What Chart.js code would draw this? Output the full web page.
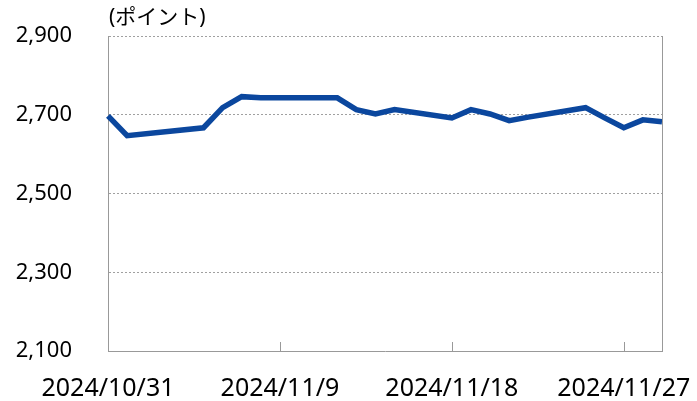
<!DOCTYPE html>
<html>
<head>
<meta charset="utf-8">
<script src="https://cdn.jsdelivr.net/npm/chart.js@4"></script>
<style>
  html, body { margin: 0; padding: 0; background: #fff; }
  #wrap { width: 697px; height: 401px; }
</style>
</head>
<body>
<div id="wrap"><canvas id="myChart"></canvas></div>
<script>
// 日付 (営業日以外は null)
var fechas = [
  "2024/10/31", "2024/11/1", "2024/11/2", "2024/11/3", "2024/11/4",
  "2024/11/5", "2024/11/6", "2024/11/7", "2024/11/8", "2024/11/9",
  "2024/11/10", "2024/11/11", "2024/11/12", "2024/11/13", "2024/11/14",
  "2024/11/15", "2024/11/16", "2024/11/17", "2024/11/18", "2024/11/19",
  "2024/11/20", "2024/11/21", "2024/11/22", "2024/11/23", "2024/11/24",
  "2024/11/25", "2024/11/26", "2024/11/27", "2024/11/28", "2024/11/29"
];
var valores = [
  2697, 2647, null, null, null,
  2667, 2718, 2746, 2743, null,
  null, 2743, 2743, 2713, 2702,
  2713, null, null, 2692, 2713,
  2702, 2685, 2694, null, null,
  2718, 2692, 2667, 2687, 2682
];
var etiquetas = ["2024/10/31", "2024/11/9", "2024/11/18", "2024/11/27"];
var unidade = "(ポイント)";
var yMin = 2100;
var yMax = 2900;
var yPaso = 200;

var fuente = "'Noto Sans', 'Noto Sans CJK JP', sans-serif";
var cinza = "#999999";

// ticks curtos para dentro, borda direita e unidade
var extras = {
  id: "extras",
  afterDraw: function (chart) {
    var ctx = chart.ctx;
    var area = chart.chartArea;
    var x = chart.scales.x;
    ctx.save();
    ctx.strokeStyle = cinza;
    ctx.lineWidth = 1;
    etiquetas.forEach(function (lab) {
      var i = fechas.indexOf(lab);
      if (i <= 0) return;
      var px = Math.round(x.getPixelForValue(i)) + 0.5;
      ctx.beginPath();
      ctx.moveTo(px, area.bottom);
      ctx.lineTo(px, area.bottom - 9);
      ctx.stroke();
    });
    ctx.beginPath();
    ctx.moveTo(Math.round(area.right) + 0.5, area.top);
    ctx.lineTo(Math.round(area.right) + 0.5, area.bottom);
    ctx.stroke();

    ctx.fillStyle = "#000";
    ctx.font = "21px " + fuente;
    ctx.textBaseline = "middle";
    ctx.textAlign = "left";
    ctx.fillText(unidade, area.left + 1, area.top - 18);
    ctx.restore();
  }
};

const ctx = document.getElementById("myChart");

new Chart(ctx, {
  type: "line",
  data: {
    labels: fechas,
    datasets: [
      {
        data: valores,
        borderColor: "#0B479E",
        borderWidth: 5.5,
        pointRadius: 0,
        tension: 0,
        spanGaps: true,
        borderJoinStyle: "miter"
      }
    ]
  },
  options: {
    responsive: true,
    maintainAspectRatio: false,
    animation: false,
    layout: { padding: { left: 0, right: 35, top: 36, bottom: 0 } },
    plugins: {
      legend: { display: false },
      tooltip: { enabled: false },
      title: { display: false }
    },
    scales: {
      x: {
        type: "category",
        offset: false,
        afterFit: function (scale) { scale.height = 50; },
        grid: { display: false, drawTicks: false },
        border: { display: true, color: cinza, width: 1 },
        ticks: {
          autoSkip: false,
          maxRotation: 0,
          padding: 23,
          color: "#000",
          font: { family: fuente, size: 25 },
          callback: function (v, i) {
            var lab = fechas[i];
            return etiquetas.indexOf(lab) >= 0 ? lab : "";
          }
        }
      },
      y: {
        min: yMin,
        max: yMax,
        afterFit: function (scale) { scale.width = 108; },
        grid: {
          drawTicks: true,
          tickLength: 34,
          tickColor: "rgba(0,0,0,0)",
          color: function (c) {
            return c.tick && c.tick.value === yMin ? "rgba(0,0,0,0)" : "#a0a0a0";
          }
        },
        border: { display: true, color: cinza, width: 1, dash: [2, 2] },
        ticks: {
          stepSize: yPaso,
          padding: 2,
          color: "#000",
          font: { family: fuente, size: 22 },
          callback: function (v) { return v.toLocaleString("en-US"); }
        }
      }
    }
  },
  plugins: [extras]
});
</script>
</body>
</html>
